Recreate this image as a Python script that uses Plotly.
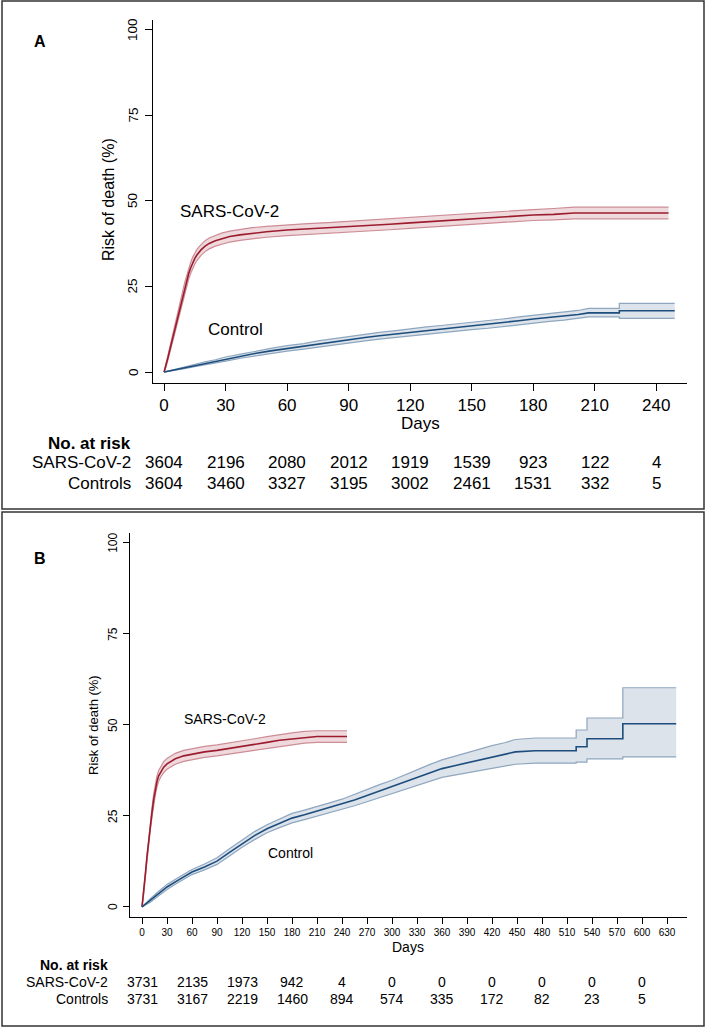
import plotly.graph_objects as go

FONT = "Liberation Sans, Arial, sans-serif"
W, H = 707, 1028

# ---- Panel A: follow-up to 250 days ----
A_SARS_DAYS = [0, 1, 2, 3, 4, 5, 6, 7, 8, 9, 10, 11, 12, 13, 14, 15, 16, 17, 18, 20, 22, 25, 28,
               32, 37, 43, 50, 60, 70, 80, 90, 100, 110, 120, 130, 140, 150, 160, 170, 180, 190,
               200, 246]
A_SARS_EST = [0, 2.0, 4.5, 7.0, 9.5, 12.0, 14.5, 17.0, 19.5, 22.0, 24.5, 26.8, 28.8, 30.5, 32.0,
              33.2, 34.2, 35.0, 35.7, 36.8, 37.6, 38.4, 39.0, 39.6, 40.1, 40.6, 41.0, 41.5, 41.8,
              42.1, 42.5, 42.8, 43.2, 43.6, 44.0, 44.5, 44.9, 45.3, 45.6, 45.9, 46.1, 46.5, 46.5]
A_SARS_LO = [0, 1.5, 3.8, 6.2, 8.6, 11.0, 13.4, 15.8, 18.2, 20.6, 23.0, 25.3, 27.2, 28.9, 30.4,
             31.6, 32.6, 33.4, 34.1, 35.2, 36.0, 36.8, 37.4, 38.0, 38.5, 39.0, 39.4, 39.9, 40.2,
             40.5, 40.9, 41.2, 41.6, 42.0, 42.4, 42.9, 43.3, 43.7, 44.0, 44.3, 44.5, 44.8, 44.8]
A_SARS_HI = [0, 2.5, 5.2, 7.8, 10.4, 13.0, 15.6, 18.2, 20.8, 23.4, 26.0, 28.3, 30.4, 32.1, 33.6,
             34.8, 35.8, 36.6, 37.3, 38.4, 39.2, 40.0, 40.6, 41.2, 41.7, 42.2, 42.6, 43.1, 43.4,
             43.7, 44.1, 44.4, 44.8, 45.2, 45.6, 46.1, 46.5, 46.9, 47.2, 47.5, 47.8, 48.2, 48.2]

A_CTRL_DAYS = [0, 5, 10, 15, 20, 25, 30, 38, 45, 52, 60, 68, 75, 83, 90, 98, 105, 113, 120, 128,
               135, 143, 150, 158, 165, 173, 180, 188, 195, 202, 207, 222, 222, 249]
A_CTRL_EST = [0, 0.6, 1.3, 2.0, 2.6, 3.1, 3.8, 4.7, 5.5, 6.2, 6.9, 7.5, 8.2, 8.9, 9.5, 10.1, 10.6,
              11.1, 11.7, 12.2, 12.6, 13.1, 13.4, 13.9, 14.4, 15.0, 15.5, 15.9, 16.4, 16.8, 17.3,
              17.3, 17.9, 17.9]
A_CTRL_LO = [0, 0.4, 1.0, 1.6, 2.2, 2.6, 3.2, 4.1, 4.8, 5.5, 6.1, 6.7, 7.3, 8.0, 8.5, 9.1, 9.6,
             10.1, 10.7, 11.2, 11.6, 12.1, 12.4, 12.8, 13.3, 13.9, 14.4, 14.8, 15.2, 15.6, 16.1,
             16.1, 15.7, 15.7]
A_CTRL_HI = [0, 0.8, 1.6, 2.4, 3.0, 3.6, 4.4, 5.3, 6.2, 6.9, 7.7, 8.3, 9.1, 9.8, 10.5, 11.1,
             11.6, 12.1, 12.7, 13.2, 13.6, 14.1, 14.4, 15.0, 15.5, 16.1, 16.6, 17.0, 17.6, 18.0,
             18.6, 18.6, 20.1, 20.1]

A_RISK_DAYS = [0, 30, 60, 90, 120, 150, 180, 210, 240]
A_RISK_SARS = [3604, 2196, 2080, 2012, 1919, 1539, 923, 122, 4]
A_RISK_CTRL = [3604, 3460, 3327, 3195, 3002, 2461, 1531, 332, 5]

# ---- Panel B: follow-up to 640 days ----
B_SARS_DAYS = [0, 2, 4, 6, 8, 10, 12, 14, 16, 18, 20, 23, 26, 30, 35, 40, 50, 60, 75, 90, 105,
               120, 135, 150, 165, 180, 195, 210, 246]
B_SARS_EST = [0, 4.0, 9.0, 14.0, 18.5, 22.5, 26.0, 29.5, 32.3, 34.5, 36.0, 37.4, 38.4, 39.3, 40.0,
              40.7, 41.5, 42.0, 42.6, 43.0, 43.5, 44.0, 44.6, 45.2, 45.8, 46.2, 46.6, 46.8, 46.8]
B_SARS_LO = [0, 3.3, 8.1, 12.9, 17.3, 21.2, 24.6, 28.0, 30.8, 33.0, 34.5, 35.9, 36.9, 37.8, 38.5,
             39.2, 40.0, 40.5, 41.1, 41.5, 42.0, 42.5, 43.0, 43.6, 44.2, 44.6, 45.0, 45.2, 45.2]
B_SARS_HI = [0, 4.7, 9.9, 15.1, 19.7, 23.8, 27.4, 31.0, 33.8, 36.0, 37.5, 38.9, 39.9, 40.8, 41.5,
             42.2, 43.0, 43.5, 44.1, 44.5, 45.0, 45.5, 46.2, 46.8, 47.4, 47.8, 48.2, 48.4, 48.4]

B_CTRL_DAYS = [0, 10, 20, 30, 45, 60, 75, 90, 105, 120, 135, 150, 165, 180, 195, 210, 225, 240,
               255, 270, 285, 300, 315, 330, 345, 360, 375, 390, 405, 420, 435, 448, 472, 521,
               521, 534, 534, 577, 577, 641]
B_CTRL_EST = [0, 1.8, 3.7, 5.5, 7.6, 9.6, 11.0, 12.6, 15.0, 17.4, 19.6, 21.5, 23.0, 24.4, 25.3,
              26.3, 27.2, 28.2, 29.4, 30.6, 31.8, 33.0, 34.3, 35.6, 36.8, 38.0, 38.8, 39.6, 40.3,
              41.2, 41.8, 42.6, 42.9, 42.9, 44.0, 44.0, 46.2, 46.2, 50.3, 50.3]
B_CTRL_LO = [0, 1.3, 3.1, 4.8, 6.9, 8.9, 10.2, 11.7, 14.0, 16.4, 18.5, 20.4, 21.8, 23.1, 24.0,
             24.9, 25.8, 26.8, 27.8, 28.9, 30.0, 31.2, 32.3, 33.5, 34.5, 35.6, 36.2, 36.8, 37.3,
             38.0, 38.5, 39.2, 39.5, 39.5, 39.8, 39.8, 40.7, 40.7, 41.2, 41.2]
B_CTRL_HI = [0, 2.3, 4.3, 6.2, 8.3, 10.3, 11.8, 13.5, 16.0, 18.4, 20.7, 22.6, 24.2, 25.7, 26.6,
             27.7, 28.6, 29.6, 31.0, 32.3, 33.6, 34.8, 36.3, 37.7, 39.1, 40.4, 41.4, 42.3, 43.3,
             44.3, 45.1, 46.0, 46.4, 46.4, 48.6, 48.6, 51.9, 51.9, 60.2, 60.2]

B_RISK_DAYS = [0, 60, 120, 180, 240, 300, 360, 420, 480, 540, 600]
B_RISK_SARS = [3731, 2135, 1973, 942, 4, 0, 0, 0, 0, 0, 0]
B_RISK_CTRL = [3731, 3167, 2219, 1460, 894, 574, 335, 172, 82, 23, 5]

Y_TICKS = [0, 25, 50, 75, 100]

SARS_LINE, SARS_EDGE, SARS_FILL = "#9b1c2e", "#cc8d96", "rgba(233,204,208,0.75)"
CTRL_LINE, CTRL_EDGE, CTRL_FILL = "#1d4d7c", "#8ea6be", "rgba(214,222,231,0.85)"


def px_x(px):
    return px / W


def px_y(py):
    return 1 - py / H


def band_traces(days, est, lo, hi, line_color, edge_color, fill_color, xaxis, yaxis):
    """Risk curve with shaded confidence band."""
    common = dict(x=days, mode="lines", hoverinfo="skip",
                  showlegend=False, xaxis=xaxis, yaxis=yaxis)
    return [
        go.Scatter(y=hi, line=dict(color=edge_color, width=1.2), **common),
        go.Scatter(y=lo, line=dict(color=edge_color, width=1.2), fill="tonexty",
                   fillcolor=fill_color, **common),
        go.Scatter(y=est, line=dict(color=line_color, width=1.6), **common),
    ]


def text(x, y, s, size, xref="paper", yref="paper", anchor="center", bold=False, angle=0):
    return dict(x=x, y=y, xref=xref, yref=yref, text=f"<b>{s}</b>" if bold else s,
                showarrow=False, xanchor=anchor, yanchor="middle", textangle=angle,
                font=dict(family=FONT, size=size, color="black"))


def axis_style(tickvals, size, ticklen, labels=True):
    return dict(tickvals=tickvals, ticks="outside", ticklen=ticklen, tickcolor="black",
                showline=True, linecolor="black", linewidth=1, showgrid=False, zeroline=False,
                showticklabels=labels, tickfont=dict(family=FONT, size=size, color="black"))


fig = go.Figure()
for t in band_traces(A_SARS_DAYS, A_SARS_EST, A_SARS_LO, A_SARS_HI,
                     SARS_LINE, SARS_EDGE, SARS_FILL, "x", "y"):
    fig.add_trace(t)
for t in band_traces(A_CTRL_DAYS, A_CTRL_EST, A_CTRL_LO, A_CTRL_HI,
                     CTRL_LINE, CTRL_EDGE, CTRL_FILL, "x", "y"):
    fig.add_trace(t)
for t in band_traces(B_SARS_DAYS, B_SARS_EST, B_SARS_LO, B_SARS_HI,
                     SARS_LINE, SARS_EDGE, SARS_FILL, "x2", "y2"):
    fig.add_trace(t)
for t in band_traces(B_CTRL_DAYS, B_CTRL_EST, B_CTRL_LO, B_CTRL_HI,
                     CTRL_LINE, CTRL_EDGE, CTRL_FILL, "x2", "y2"):
    fig.add_trace(t)

annotations = [
    text(px_x(40), px_y(42), "A", 16, bold=True),
    text(px_x(109), px_y(200), "Risk of death (%)", 16, angle=-90),
    text(px_x(420), px_y(423), "Days", 17),
    text(32, 46.8, "SARS-CoV-2", 17, xref="x", yref="y"),
    text(35, 12.3, "Control", 17, xref="x", yref="y"),
    text(px_x(133), px_y(443), "No. at risk", 17, anchor="right", bold=True),
    text(px_x(133), px_y(463), "SARS-CoV-2", 17, anchor="right"),
    text(px_x(133), px_y(483), "Controls", 17, anchor="right"),
    text(px_x(40), px_y(558), "B", 16, bold=True),
    text(px_x(93), px_y(725), "Risk of death (%)", 13, angle=-90),
    text(px_x(408), px_y(947), "Days", 14),
    text(100, 51.6, "SARS-CoV-2", 14, xref="x2", yref="y2"),
    text(178, 14.8, "Control", 14, xref="x2", yref="y2"),
    text(px_x(110), px_y(965), "No. at risk", 14, anchor="right", bold=True),
    text(px_x(110), px_y(982), "SARS-CoV-2", 14, anchor="right"),
    text(px_x(110), px_y(999), "Controls", 14, anchor="right"),
]
# rotated y tick labels, placed a little away from the axis as in the original
for v in Y_TICKS:
    annotations.append(text(px_x(133), v, str(v), 13.5, yref="y", angle=-90))
    annotations.append(text(px_x(113), v, str(v), 12, yref="y2", angle=-90))
for d, s, c in zip(A_RISK_DAYS, A_RISK_SARS, A_RISK_CTRL):
    annotations.append(text(d, px_y(463), str(s), 17, xref="x"))
    annotations.append(text(d, px_y(483), str(c), 17, xref="x"))
for d, s, c in zip(B_RISK_DAYS, B_RISK_SARS, B_RISK_CTRL):
    annotations.append(text(d, px_y(982), str(s), 14, xref="x2"))
    annotations.append(text(d, px_y(999), str(c), 14, xref="x2"))

border = dict(color="#333333", width=1.5)
shapes = [
    dict(type="rect", xref="paper", yref="paper", x0=px_x(2), x1=px_x(704),
         y0=px_y(509), y1=px_y(1), line=border),
    dict(type="rect", xref="paper", yref="paper", x0=px_x(2), x1=px_x(704),
         y0=px_y(1026), y1=px_y(512), line=border),
]

fig.update_layout(
    width=W, height=H, margin=dict(l=0, r=0, t=0, b=0),
    paper_bgcolor="white", plot_bgcolor="white", showlegend=False,
    xaxis=dict(domain=[px_x(153), px_x(687)], range=[-5.4, 255], anchor="y",
               **axis_style(list(range(0, 241, 30)), 17, 7)),
    yaxis=dict(domain=[px_y(383), px_y(20)], range=[-3.2, 102.9], anchor="x",
               **axis_style(Y_TICKS, 13.5, 7, labels=False)),
    xaxis2=dict(domain=[px_x(130), px_x(687)], range=[-14.4, 654], anchor="y2",
                **axis_style(list(range(0, 631, 30)), 10, 6)),
    yaxis2=dict(domain=[px_y(917), px_y(533)], range=[-2.75, 102.7], anchor="x2",
                **axis_style(Y_TICKS, 12, 6, labels=False)),
    annotations=annotations,
    shapes=shapes,
)

fig.write_html(
    "out.html",
    config={"displayModeBar": False},
    post_script="document.body.style.margin='0';document.body.style.overflow='hidden';",
)
